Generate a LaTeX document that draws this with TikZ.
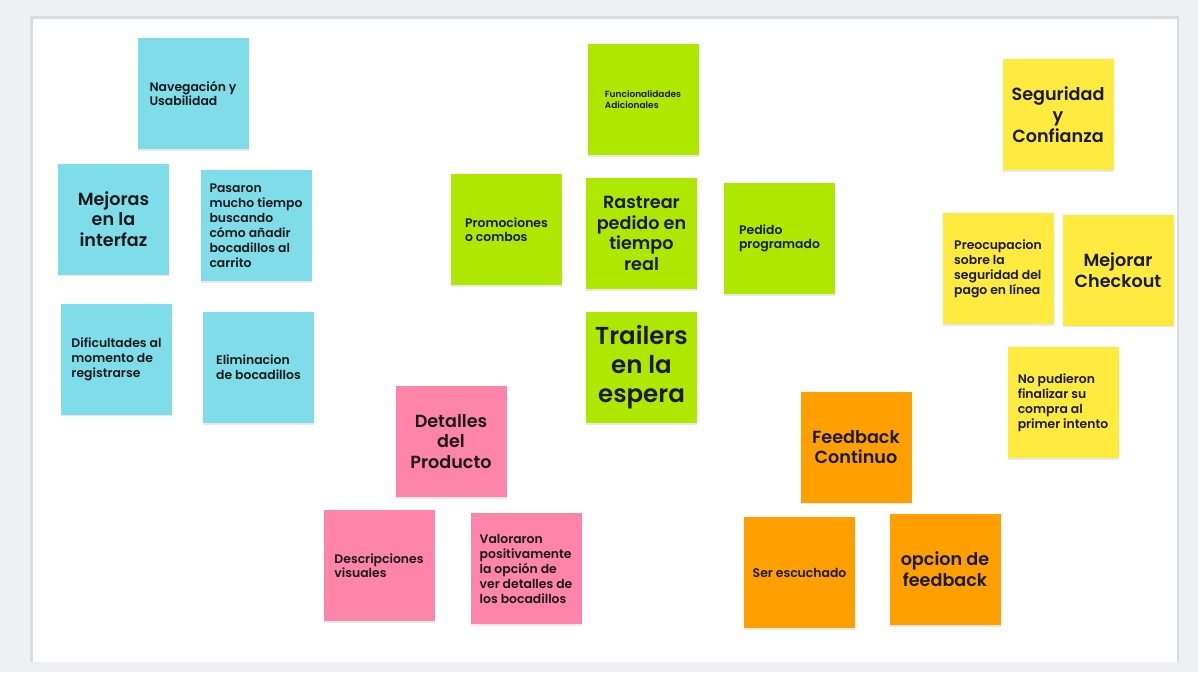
\documentclass[tikz,border=0pt]{standalone}
\usepackage{fontspec}
\setmainfont{Poppins}[UprightFont=* SemiBold, BoldFont=* Bold]
\usetikzlibrary{shadows}

\definecolor{pagegray}{HTML}{EFF0F2}
\definecolor{framegray}{HTML}{D9DBDF}
\definecolor{ink}{HTML}{1A1A1A}
\definecolor{skycyan}{HTML}{7FDDEA}
\definecolor{limegreen}{HTML}{AEE800}
\definecolor{rosepink}{HTML}{FF84AA}
\definecolor{sunyellow}{HTML}{FFEA40}
\definecolor{amber}{HTML}{FF9F00}

\tikzset{
  note/.style={fill=#1, minimum width=111pt, minimum height=111pt,
    inner sep=0pt, text=ink,
    drop shadow={shadow xshift=0pt, shadow yshift=-1.5pt, opacity=0.18}},
  small/.style={align=left, font=\fontsize{12.4}{15}\selectfont},
  snug/.style={align=left, font=\fontsize{12.4}{14}\selectfont},
  tiny/.style={align=left, font=\fontsize{9}{11}\selectfont},
  big/.style={align=center, font=\fontsize{17.6}{20.8}\selectfont},
  huge/.style={align=center, font=\fontsize{24.5}{29}\selectfont},
}

\begin{document}
\begin{tikzpicture}[x=1pt, y=-1pt]
  % board background and frame
  \fill[pagegray] (0,0) rectangle (1198,672);
  \fill[white] (31,17) rectangle (1178,662);
  \draw[framegray, line width=2.5pt] (31.25,662) -- (31.25,17.25) -- (1177.75,17.25) -- (1177.75,662);
  \useasboundingbox (0,0) rectangle (1198,672);

  % navigation and usability
  \node[note=skycyan, snug] (nav) at (193,93.5) {Navegación y\\Usabilidad};
  \node[note=skycyan, big] (mej) at (113.5,219) {Mejoras\\en la\\interfaz};
  \node[note=skycyan, small] (pas) at (256,225.5) {Pasaron\\mucho tiempo\\buscando\\cómo añadir\\bocadillos al\\carrito};
  \node[note=skycyan, small] (dif) at (116.5,359) {Dificultades al\\momento de\\registrarse};
  \node[note=skycyan, small] (eli) at (258.5,367.5) {Eliminacion\\de bocadillos};

  % additional features
  \node[note=limegreen, tiny] (fun) at (643,99.5) {Funcionalidades\\Adicionales};
  \node[note=limegreen, snug] (pro) at (506.5,229.5) {Promociones\\o combos};
  \node[note=limegreen, big] (ras) at (641.5,233.5) {Rastrear\\pedido en\\tiempo\\real};
  \node[note=limegreen, snug] (ped) at (779.5,238.5) {Pedido\\programado};
  \node[note=limegreen, huge] (tra) at (641.5,367.5) {Trailers\\en la\\espera};

  % security and trust
  \node[note=sunyellow, big] (seg) at (1058,114.5) {Seguridad\\y\\Confianza};
  \node[note=sunyellow, small] (pre) at (998,268.5) {Preocupacion\\sobre la\\seguridad del\\pago en línea};
  \node[note=sunyellow, big] (mejc) at (1118,270) {Mejorar\\Checkout};
  \node[note=sunyellow, small] (nop) at (1063,402.5) {No pudieron\\finalizar su\\compra al\\primer intento};

  % product details
  \node[note=rosepink, big] (det) at (451,441.5) {Detalles\\del\\Producto};
  \node[note=rosepink, snug] (des) at (379,565.5) {Descripciones\\visuales};
  \node[note=rosepink, small] (val) at (526,568.5) {Valoraron\\positivamente\\la opción de\\ver detalles de\\los bocadillos};

  % continuous feedback
  \node[note=amber, big] (fee) at (856,447) {Feedback\\Continuo};
  \node[note=amber, small] (ser) at (799.5,572.5) {Ser escuchado};
  \node[note=amber, big] (opc) at (945,569.5) {opcion de\\feedback};
\end{tikzpicture}
\end{document}
